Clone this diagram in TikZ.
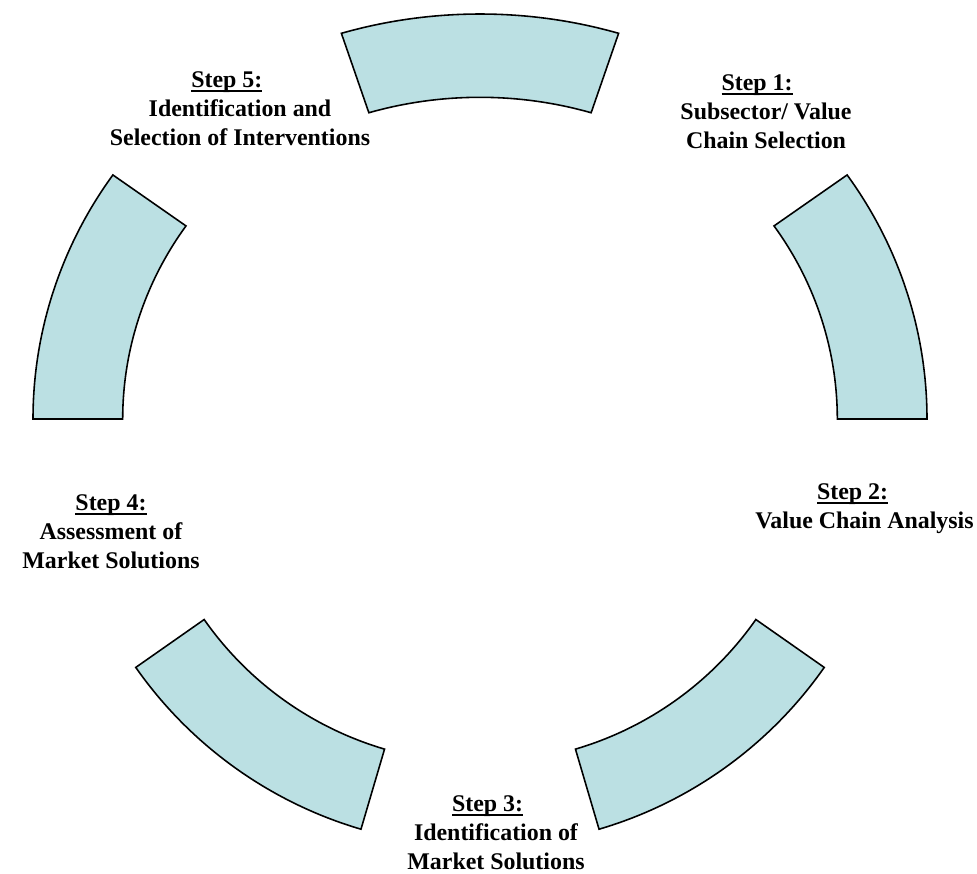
\documentclass[tikz,border=0pt]{standalone}
\usepackage{fontspec}
\setmainfont{Liberation Serif}
\definecolor{segblue}{RGB}{187,224,227}
\newcommand{\stepul}[1]{\sbox0{#1}\rlap{\rule[-0.15em]{\wd0}{0.07em}}\usebox0}
\tikzset{
  stepseg/.style={draw=black, line width=0.9pt, fill=segblue},
  steplabel/.style={font=\bfseries\fontsize{13.6}{16.4}\selectfont, align=center, inner sep=0pt}
}
\begin{document}
\begin{tikzpicture}[x=0.02cm, y=0.02cm]
\useasboundingbox (0,0) rectangle (977,873);
% block arcs, clockwise from the top
\draw[stepseg, shift={(480,442)}] (72.5:461 and 417) arc[start angle=72.5, end angle=107.5, x radius=461, y radius=417]
  -- (107.5:369.6 and 333.7) arc[start angle=107.5, end angle=72.5, x radius=369.6, y radius=333.7] -- cycle;
\draw[stepseg, shift={(495,454)}] (0:432 and 421.3) arc[start angle=0, end angle=35.4, x radius=432, y radius=421.3]
  -- (35.4:342.3 and 333.3) arc[start angle=35.4, end angle=0, x radius=342.3, y radius=333.3] -- cycle;
\draw[stepseg, shift={(480.6,446.2)}] (-73.6:419.5) arc[start angle=-73.6, end angle=-35, radius=419.5]
  -- (-35:336) arc[start angle=-35, end angle=-73.6, radius=336] -- cycle;
\draw[stepseg, shift={(479.4,446.2)}] (-145:419.5) arc[start angle=-145, end angle=-106.4, radius=419.5]
  -- (-106.4:336) arc[start angle=-106.4, end angle=-145, radius=336] -- cycle;
\draw[stepseg, shift={(465,454)}] (144.6:432 and 421.3) arc[start angle=144.6, end angle=180, x radius=432, y radius=421.3]
  -- (180:342.3 and 333.3) arc[start angle=180, end angle=144.6, x radius=342.3, y radius=333.3] -- cycle;
% step labels
\node[steplabel] (step1) at (766,761) {\stepul{Step 1:}\hspace*{0.75em}\\Subsector/ Value\\Chain Selection};
\node[steplabel] (step2) at (864.5,364) {\stepul{Step 2:}\hspace*{1em}\\Value Chain Analysis};
\node[steplabel] (step3) at (496,40) {\stepul{Step 3:}\hspace*{0.7em}\\Identification of\\Market Solutions};
\node[steplabel] (step4) at (111,341) {\stepul{Step 4:}\\Assessment of\\Market Solutions};
\node[steplabel] (step5) at (240,764) {\stepul{Step 5:}\hspace*{1.1em}\\Identification and\\Selection of Interventions};
\end{tikzpicture}
\end{document}
